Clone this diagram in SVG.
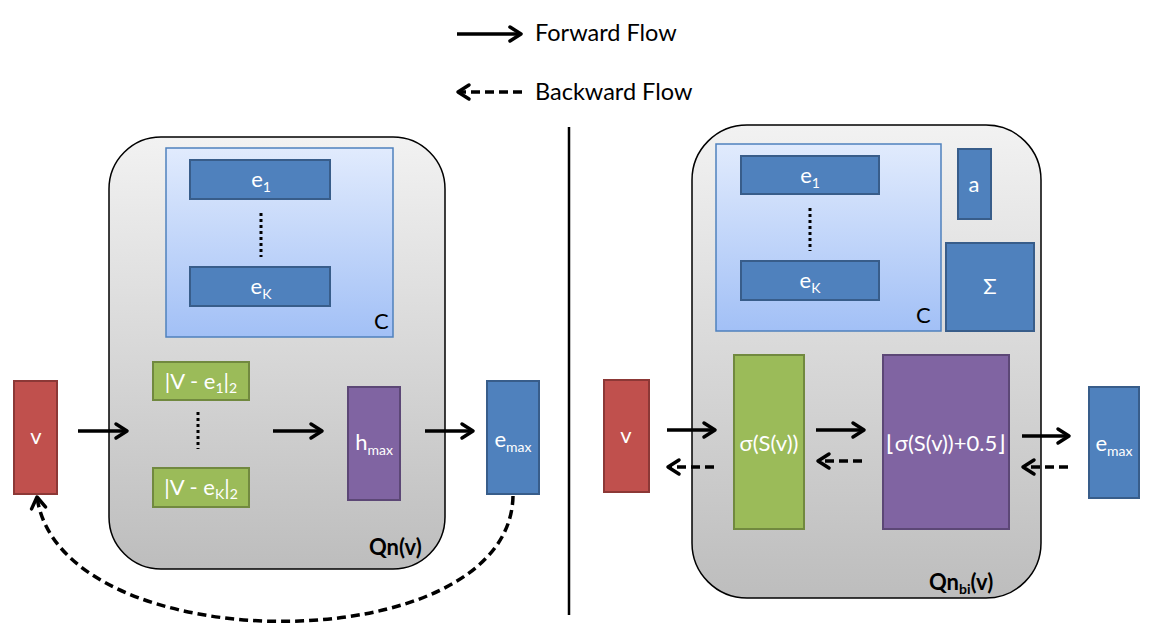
<svg xmlns="http://www.w3.org/2000/svg" width="1155" height="629" viewBox="0 0 1155 629">
<defs>
<linearGradient id="gGray" x1="0" y1="0" x2="0" y2="1">
<stop offset="0" stop-color="#f2f2f2"/><stop offset="1" stop-color="#bdbdbd"/>
</linearGradient>
<linearGradient id="gBlue" x1="0" y1="0" x2="0" y2="1">
<stop offset="0" stop-color="#e1ebfd"/><stop offset="1" stop-color="#a2c0f6"/>
</linearGradient>
<marker id="ah" markerUnits="userSpaceOnUse" markerWidth="18" markerHeight="20" refX="14" refY="10" orient="auto">
<path d="M3,3 L14,10 L3,17" fill="none" stroke="#000" stroke-width="3.5" stroke-linecap="round" stroke-linejoin="round" stroke-dasharray="none"/>
</marker>
<style>
text{font-family:Lato,"Liberation Sans",sans-serif}
.lbl{fill:#fff;font-size:22px;text-anchor:middle}
.sub{font-size:14px}
.blk{fill:#000;font-size:22px}
.leg{fill:#000;font-size:23.5px}
.panel{fill:url(#gGray);stroke:#000;stroke-width:1.5}
.cb{fill:url(#gBlue);stroke:#4f81bd;stroke-width:1.5}
.blue{fill:#4f81bd;stroke:#385d8a;stroke-width:2}
.red{fill:#c0504d;stroke:#8c3836;stroke-width:2}
.green{fill:#9bbb59;stroke:#71893f;stroke-width:2}
.purple{fill:#8064a2;stroke:#5c4776;stroke-width:2}
.fw{stroke:#000;stroke-width:3.5;fill:none;marker-end:url(#ah)}
.bw{stroke:#000;stroke-width:3.5;fill:none;stroke-dasharray:9 5;marker-end:url(#ah)}
.dots{stroke:#000;stroke-width:3;stroke-dasharray:3 3;fill:none}
</style>
</defs>
<rect width="1155" height="629" fill="#fff"/>

<g id="legend">
<text class="leg" x="535" y="41">Forward Flow</text>
<text class="leg" x="535" y="100">Backward Flow</text>
</g>

<line id="divider" x1="569" y1="127" x2="569" y2="615" stroke="#000" stroke-width="2.5"/>

<!-- Left panel -->
<g id="qn-panel">
<rect class="panel" x="109" y="137" width="336" height="432" rx="52" ry="52"/>
<text class="blk" x="369" y="555" font-weight="bold" font-size="20">Qn(v)</text>
</g>
<g id="codebook-left">
<rect class="cb" x="166" y="148" width="227" height="189"/>
<text class="blk" x="374" y="329">C</text>
</g>
<g id="e1-left"><rect class="blue" x="190" y="160" width="140" height="39"/><text class="lbl" x="261" y="187">e<tspan class="sub" dy="5">1</tspan></text></g>
<g id="eK-left"><rect class="blue" x="190" y="267" width="140" height="39"/><text class="lbl" x="261" y="294">e<tspan class="sub" dy="5">K</tspan></text></g>
<g id="v-left"><rect class="red" x="14" y="381" width="43" height="113"/><text class="lbl" x="36" y="444" font-size="19">v</text></g>
<g id="dist1"><rect class="green" x="153" y="362" width="96" height="38"/><text class="lbl" x="201" y="389" font-size="21">|V - e<tspan class="sub" dy="4">1</tspan><tspan dy="-4">|</tspan><tspan class="sub" dy="4">2</tspan></text></g>
<g id="distK"><rect class="green" x="153" y="468" width="96" height="39"/><text class="lbl" x="201" y="495" font-size="21">|V - e<tspan class="sub" dy="4">K</tspan><tspan dy="-4">|</tspan><tspan class="sub" dy="4">2</tspan></text></g>
<g id="hmax"><rect class="purple" x="348" y="387" width="52" height="113"/><text class="lbl" x="374" y="450">h<tspan class="sub" dy="5">max</tspan></text></g>
<g id="emax-left"><rect class="blue" x="487" y="381" width="52" height="113"/><text class="lbl" x="513" y="447">e<tspan class="sub" dy="5">max</tspan></text></g>

<!-- Right panel -->
<g id="qnbi-panel">
<rect class="panel" x="692" y="125" width="349" height="473" rx="55" ry="55"/>
<text class="blk" x="929" y="590" font-weight="bold" font-size="20">Qn<tspan class="sub" dy="4">bi</tspan><tspan dy="-4">(v)</tspan></text>
</g>
<g id="codebook-right">
<rect class="cb" x="716" y="144" width="225" height="187"/>
<text class="blk" x="916" y="323">C</text>
</g>
<g id="e1-right"><rect class="blue" x="741" y="156" width="138" height="38"/><text class="lbl" x="810" y="183">e<tspan class="sub" dy="5">1</tspan></text></g>
<g id="eK-right"><rect class="blue" x="741" y="261" width="138" height="39"/><text class="lbl" x="810" y="288">e<tspan class="sub" dy="5">K</tspan></text></g>
<g id="a-node"><rect class="blue" x="958" y="149" width="33" height="70"/><text class="lbl" x="974" y="192">a</text></g>
<g id="sigma-node"><rect class="blue" x="946" y="243" width="88" height="88"/><text class="lbl" x="990" y="294">Σ</text></g>
<g id="v-right"><rect class="red" x="604" y="380" width="45" height="112"/><text class="lbl" x="626" y="443" font-size="19">v</text></g>
<g id="sigmoid"><rect class="green" x="734" y="355" width="70" height="174"/><text class="lbl" x="769" y="451" font-size="21">σ(S(v))</text></g>
<g id="round"><rect class="purple" x="883" y="355" width="126" height="174"/><text class="lbl" x="946" y="451" font-size="21">⌊σ(S(v))+0.5⌋</text></g>
<g id="emax-right"><rect class="blue" x="1089" y="387" width="50" height="111"/><text class="lbl" x="1114" y="451">e<tspan class="sub" dy="5">max</tspan></text></g>

<g id="connectors">
<line class="fw" x1="457" y1="34" x2="521" y2="34"/>
<line class="bw" x1="522" y1="92" x2="458" y2="92"/>
<line class="dots" x1="261" y1="213" x2="261" y2="257"/>
<line class="dots" x1="810" y1="208" x2="810" y2="251"/>
<line class="dots" x1="198" y1="412" x2="198" y2="449"/>
<line class="fw" x1="78" y1="431" x2="127" y2="431"/>
<line class="fw" x1="273" y1="431" x2="322" y2="431"/>
<line class="fw" x1="425" y1="431" x2="473" y2="431"/>
<path class="bw" d="M513,496 C510,663 60,663 37,497"/>
<line class="fw" x1="667" y1="430" x2="715" y2="430"/>
<line class="bw" x1="714" y1="467" x2="668" y2="467"/>
<line class="fw" x1="816" y1="430" x2="864" y2="430"/>
<line class="bw" x1="862" y1="461" x2="818" y2="461"/>
<line class="fw" x1="1022" y1="436" x2="1069" y2="436"/>
<line class="bw" x1="1068" y1="467" x2="1023" y2="467"/>
</g>
</svg>
